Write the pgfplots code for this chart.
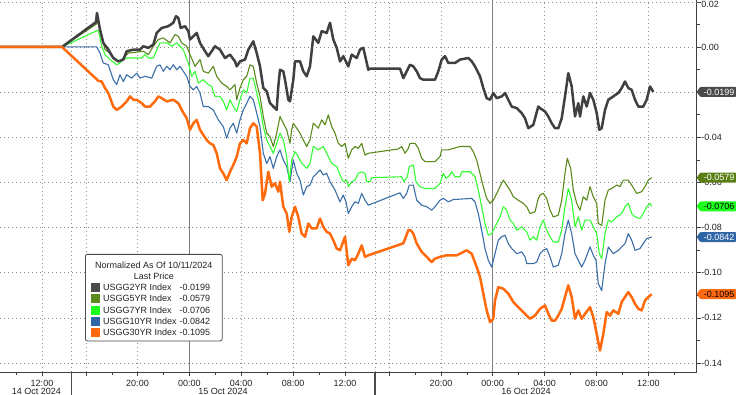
\documentclass[border=0pt]{standalone}
\usepackage{fontspec}
\setmainfont{Liberation Sans}
\usepackage{pgfplots}
\pgfplotsset{compat=1.18}
\definecolor{c2}{HTML}{404040}
\definecolor{c5}{HTML}{5A8A1C}
\definecolor{c7}{HTML}{33FF33}
\definecolor{c10}{HTML}{3A6EA8}
\definecolor{c30}{HTML}{FF6A0D}
\definecolor{t2}{HTML}{4A4A4A}
\definecolor{t5}{HTML}{5A7F15}
\definecolor{t7}{HTML}{1CFF1C}
\definecolor{t10}{HTML}{2F65A5}
\definecolor{t30}{HTML}{FF6A10}
\definecolor{txt}{HTML}{222222}
\newcommand\fs{\fontsize{9bp}{11.2bp}\selectfont}
\newcommand\sw[1]{\textcolor{#1}{\rule[-1.5bp]{9bp}{9bp}}}
\newcommand\tagat[4]{%
  \fill[#2, rounded corners=0.8bp] (#1) -- ++(3.5bp,5bp) -- ++(35.8bp,0) -- ++(0,-10bp) -- ++(-35.8bp,0) -- cycle;
  \node[font=\fs, text=#3, inner sep=0pt, anchor=base east] at ([xshift=37.8bp, yshift=-3.2bp]#1) {#4};}
\begin{document}
\begin{tikzpicture}
\begin{axis}[name=ax, at={(0,0)}, anchor=south west,
  width=696.7bp, height=372bp, scale only axis,
  xmin=0, xmax=696.7, ymin=-0.1440, ymax=0.0208,
  axis x line*=bottom, axis y line*=right,
  axis line style={draw=black!75, line width=0.8bp},
  xtick={42,71.7,86,137.5,189.3,241.2,293.1,345,375,389,441,492.7,544.6,596.5,648.4},
  xticklabels={12:00,,,20:00,00:00,04:00,08:00,12:00,,,20:00,00:00,04:00,08:00,12:00},
  minor xtick={16,112,163.4,215.2,267.1,319,415,466.8,518.6,570.5,622.4,674.3},
  ytick={-0.14,-0.12,-0.10,-0.08,-0.06,-0.04,-0.02,0},
  yticklabels={\textrm{-}0.14,\textrm{-}0.12,\textrm{-}0.10,\textrm{-}0.08,\textrm{-}0.06,\textrm{-}0.04,\textrm{-}0.02,0.00},
  extra y ticks={0.02}, extra y tick labels={0.02},
  extra y tick style={grid=major, yticklabel style={yshift=-3bp}},
  minor ytick={-0.13,-0.11,-0.09,-0.07,-0.05,-0.03,-0.01,0.01},
  tick align=outside, major tick length=4bp, minor tick length=3bp,
  tick style={draw=black!75, line width=0.6bp},
  grid=major,
  major grid style={draw=black!45, dash pattern=on 1bp off 3bp, line width=0.6bp},
  ticklabel style={font=\fs, text=txt},
  xticklabel style={anchor=base, inner sep=0pt, yshift=-10.7bp},
  yticklabel style={anchor=west, inner sep=0pt, xshift=0.5bp},
  extra x ticks={189.3,492.7}, extra x tick labels={},
  extra x tick style={grid=major, major grid style={solid, draw=black!50, line width=0.9bp}},
  clip=false,
]
% 10YR
\addplot[c10, line width=1.1bp, line join=round] coordinates {
(0,0) (62,0) (96.7,0) (100,-0.0027) (103.3,-0.0071) (108.3,-0.0079) (113.3,-0.0145) (116.7,-0.0167) (120,-0.0123) (123.3,-0.0153) (126.7,-0.0123) (131.7,-0.0138) (136.7,-0.0116) (140,-0.0138) (145,-0.0130) (151.7,-0.0138) (156.7,-0.0086) (160,-0.0079) (163.3,-0.0108) (166.7,-0.0086) (170,-0.0101) (173.3,-0.0079) (176.7,-0.0101) (180,-0.0086) (183.3,-0.0108) (186.7,-0.0130) (190,-0.0175) (193.3,-0.0190) (196.7,-0.0175) (200,-0.0204) (203.3,-0.0264) (208.3,-0.0264) (213.3,-0.0279) (218.3,-0.0323) (223.3,-0.0353) (226.7,-0.0404) (230,-0.0360) (233.3,-0.0338) (236.7,-0.0382) (240,-0.0323) (243.3,-0.0279) (246.7,-0.0249) (250,-0.0219) (253.3,-0.0234) (256.7,-0.0293) (260,-0.0353) (263.3,-0.0471) (266.7,-0.0516) (270,-0.0486) (273.3,-0.0538) (276.7,-0.0486) (280,-0.0456) (283.3,-0.0501) (286.7,-0.0530) (290,-0.0597) (293.3,-0.0501) (296.7,-0.0560) (300,-0.0590) (303.3,-0.0656) (306.7,-0.0619) (310,-0.0612) (313.3,-0.0575) (316.7,-0.0560) (320,-0.0545) (323.3,-0.0567) (326.7,-0.0560) (330,-0.0597) (335,-0.0634) (340,-0.0686) (343.3,-0.0656) (346,-0.0686) (348.3,-0.0738) (351.7,-0.0708) (355,-0.0686) (358.3,-0.0693) (361.7,-0.0649) (365,-0.0679) (368.3,-0.0701) (400,-0.0646) (403.3,-0.0671) (406.7,-0.0649) (409.3,-0.0612) (413.3,-0.0612) (416.7,-0.0679) (421.7,-0.0701) (426.7,-0.0708) (431.7,-0.0723) (435,-0.0708) (440,-0.0679) (443.3,-0.0671) (448.3,-0.0686) (453.3,-0.0676) (471.7,-0.0671) (475,-0.0686) (478.3,-0.0738) (481.7,-0.0812) (485,-0.0893) (488.3,-0.0945) (491.7,-0.0975) (495,-0.0916) (498.3,-0.0856) (501.7,-0.0841) (505,-0.0834) (508.3,-0.0871) (511.7,-0.0893) (516.7,-0.0916) (521.7,-0.0908) (525,-0.0930) (526.7,-0.0960) (533.3,-0.0960) (536.7,-0.0953) (540,-0.0916) (543.3,-0.0901) (546.7,-0.0893) (550,-0.0930) (553.3,-0.0975) (558.3,-0.0967) (561.7,-0.0916) (565,-0.0827) (568.3,-0.0767) (571.7,-0.0827) (575,-0.0916) (578.3,-0.0945) (581.7,-0.0975) (585,-0.0945) (590,-0.0886) (593.3,-0.0923) (596,-0.0945) (598.3,-0.1049) (601.7,-0.1079) (605,-0.0960) (608.3,-0.0886) (613.3,-0.0916) (618.3,-0.0901) (621.7,-0.0886) (625,-0.0871) (628.3,-0.0827) (631.7,-0.0856) (635,-0.0901) (640,-0.0893) (643.3,-0.0871) (646.7,-0.0849) (651.7,-0.0842)};
% 7YR
\addplot[c7, line width=1.1bp, line join=round] coordinates {
(0,0) (62,0) (98.3,0.0075) (101.7,0.0003) (105,-0.0034) (110,-0.0056) (116.7,-0.0079) (120,-0.0071) (123.3,-0.0056) (126.7,-0.0049) (141.7,-0.0049) (145,-0.0034) (148.3,-0.0049) (153.3,-0.0049) (156.7,-0.0012) (160,0.0018) (166.7,0.0018) (171.7,0.0003) (176.7,0.0018) (180,0.0003) (183.3,-0.0012) (188.3,-0.0071) (191.7,-0.0130) (195,-0.0108) (198.3,-0.0160) (203.3,-0.0145) (208.3,-0.0167) (211.7,-0.0175) (215,-0.0219) (220,-0.0219) (223.3,-0.0241) (226.7,-0.0279) (230,-0.0234) (233.3,-0.0264) (236.7,-0.0286) (240,-0.0234) (243.3,-0.0190) (246.7,-0.0204) (250,-0.0138) (253.3,-0.0138) (256.7,-0.0204) (260,-0.0264) (263.3,-0.0353) (266.7,-0.0412) (270,-0.0441) (273.3,-0.0471) (276.7,-0.0427) (280,-0.0382) (283.3,-0.0412) (286.7,-0.0486) (289.3,-0.0597) (291.7,-0.0501) (295,-0.0464) (298.3,-0.0486) (301.7,-0.0516) (306.7,-0.0538) (310,-0.0516) (313.3,-0.0441) (318.3,-0.0456) (323.3,-0.0441) (326.7,-0.0471) (331.7,-0.0516) (336.7,-0.0530) (340,-0.0567) (343.3,-0.0597) (346.7,-0.0590) (348.3,-0.0619) (351.7,-0.0597) (355,-0.0590) (358.3,-0.0560) (361.7,-0.0553) (365,-0.0560) (366.7,-0.0597) (370,-0.0597) (371.7,-0.0579) (401.7,-0.0575) (404,-0.0597) (407.3,-0.0575) (409.3,-0.0530) (413.3,-0.0523) (416,-0.0597) (420,-0.0619) (425,-0.0627) (435,-0.0627) (440,-0.0604) (441.7,-0.0582) (443.3,-0.0560) (446,-0.0582) (448.3,-0.0575) (451.7,-0.0553) (455,-0.0575) (460,-0.0575) (461.7,-0.0553) (470,-0.0553) (475,-0.0575) (478.3,-0.0634) (481.7,-0.0708) (485,-0.0782) (488.3,-0.0834) (491.7,-0.0827) (495,-0.0797) (500,-0.0753) (503.3,-0.0708) (506.7,-0.0723) (510,-0.0767) (513.3,-0.0782) (516.7,-0.0812) (521.7,-0.0797) (526.7,-0.0819) (530,-0.0856) (533.3,-0.0841) (536.7,-0.0856) (540,-0.0797) (543.3,-0.0767) (546.7,-0.0812) (550,-0.0841) (553.3,-0.0864) (558.3,-0.0864) (561.7,-0.0812) (565,-0.0708) (568.3,-0.0627) (571.7,-0.0679) (575,-0.0797) (578.3,-0.0753) (581.7,-0.0812) (585,-0.0767) (590,-0.0767) (593.3,-0.0797) (596.7,-0.0827) (599.3,-0.0916) (601.7,-0.0938) (605,-0.0827) (608.3,-0.0767) (611.7,-0.0775) (616.7,-0.0753) (621.7,-0.0738) (625,-0.0708) (628.3,-0.0693) (631.7,-0.0738) (635,-0.0753) (640,-0.0760) (643.3,-0.0738) (646.7,-0.0708) (650,-0.0693) (651.7,-0.0706)};
% 5YR
\addplot[c5, line width=1.1bp, line join=round] coordinates {
(0,0) (62,0) (98.3,0.0107) (101.7,0.0047) (105,-0.0012) (110,-0.0027) (115,-0.0056) (120,-0.0064) (123.3,-0.0049) (128.3,-0.0027) (135,-0.0024) (143.3,-0.0019) (148.3,-0.0034) (153.3,0.0003) (158.3,0.0033) (163.3,0.0040) (170,0.0018) (175,0.0055) (178.3,0.0047) (181.7,0.0018) (186.7,0.0003) (190,-0.0034) (195,-0.0086) (200,-0.0056) (203.3,-0.0108) (208.3,-0.0116) (213.3,-0.0086) (216.7,-0.0130) (221.7,-0.0160) (226.7,-0.0175) (230,-0.0190) (235,-0.0167) (236.7,-0.0234) (240,-0.0182) (243.3,-0.0145) (246.7,-0.0130) (250,-0.0079) (253.3,-0.0086) (256.7,-0.0160) (260,-0.0219) (263.3,-0.0308) (266.7,-0.0382) (270,-0.0397) (273.3,-0.0441) (276.7,-0.0382) (280,-0.0308) (283.3,-0.0338) (286.7,-0.0367) (290,-0.0427) (291.7,-0.0367) (293.3,-0.0338) (296.7,-0.0360) (300,-0.0382) (303.3,-0.0412) (306.7,-0.0441) (310,-0.0412) (313.3,-0.0338) (318.3,-0.0360) (321.7,-0.0323) (325,-0.0345) (328.3,-0.0301) (331.7,-0.0353) (335,-0.0382) (338.3,-0.0427) (341.7,-0.0441) (345,-0.0427) (348.3,-0.0493) (351.7,-0.0456) (355,-0.0441) (358.3,-0.0449) (361.7,-0.0427) (365,-0.0479) (368.3,-0.0471) (398.3,-0.0452) (401.7,-0.0441) (405,-0.0471) (408.3,-0.0449) (410,-0.0427) (415,-0.0427) (418.3,-0.0449) (421.7,-0.0493) (425,-0.0508) (435,-0.0508) (440,-0.0486) (441.7,-0.0456) (448.3,-0.0456) (460,-0.0441) (470,-0.0441) (473.3,-0.0464) (476.7,-0.0501) (480,-0.0560) (483.3,-0.0619) (486.7,-0.0671) (490,-0.0693) (493.3,-0.0679) (496.7,-0.0649) (500,-0.0619) (503.3,-0.0590) (506.7,-0.0612) (510,-0.0634) (513.3,-0.0664) (518.3,-0.0679) (523.3,-0.0693) (526.7,-0.0708) (530,-0.0738) (535,-0.0730) (538.3,-0.0671) (540,-0.0656) (543.3,-0.0649) (546.7,-0.0671) (550,-0.0723) (553.3,-0.0753) (558.3,-0.0745) (561.7,-0.0679) (565,-0.0560) (567.3,-0.0493) (570.7,-0.0538) (573.3,-0.0634) (576.7,-0.0693) (580,-0.0723) (583.3,-0.0664) (586.7,-0.0679) (590,-0.0619) (593.3,-0.0664) (596.7,-0.0693) (598.3,-0.0782) (601.7,-0.0790) (605,-0.0679) (608.3,-0.0634) (611.7,-0.0627) (616.7,-0.0612) (620,-0.0619) (623.3,-0.0590) (628.3,-0.0590) (631.7,-0.0612) (636.7,-0.0649) (641.7,-0.0641) (645,-0.0619) (648.3,-0.0590) (651.7,-0.0579)};
% 2YR
\addplot[c2, line width=2.5bp, line join=round] coordinates {
(0,0) (62,0) (96,0.0110) (97,0.0151) (100,0.0077) (103.3,0.0018) (108.3,-0.0012) (113.3,-0.0049) (118.3,-0.0064) (123.3,-0.0056) (126.7,-0.0019) (133.3,-0.0012) (140,-0.0012) (143.3,0.0003) (148.3,-0.0004) (153.3,0.0010) (156.7,0.0062) (161.7,0.0084) (168.3,0.0092) (173.3,0.0107) (176,0.0136) (178.3,0.0129) (180.7,0.0084) (185,0.0092) (188.3,0.0070) (190,0.0033) (193.3,0.0047) (196.7,0.0062) (200,0.0018) (205,-0.0019) (208.3,-0.0041) (211.7,-0.0019) (215,0.0003) (220,-0.0012) (225,-0.0049) (230,-0.0034) (235,-0.0064) (236.7,-0.0086) (240,-0.0064) (245,-0.0056) (248.3,-0.0012) (253.3,0.0025) (256.7,-0.0027) (260,-0.0086) (263.3,-0.0182) (266.7,-0.0197) (270,-0.0249) (273.3,-0.0264) (276.7,-0.0279) (278.3,-0.0175) (280,-0.0101) (283.3,-0.0108) (285,-0.0145) (288.3,-0.0234) (290,-0.0241) (293.3,-0.0145) (295,-0.0064) (300,-0.0064) (303.3,-0.0108) (306.7,-0.0130) (310,-0.0086) (313.3,0.0047) (318.3,0.0018) (321.7,0.0070) (326.7,0.0062) (330,0.0107) (333.3,0.0033) (336.7,-0.0004) (340,-0.0064) (343.3,-0.0041) (348.3,-0.0086) (351.7,-0.0034) (356.7,-0.0049) (360,-0.0012) (363.3,-0.0004) (366,-0.0056) (368.3,-0.0101) (370,-0.0096) (400,-0.0096) (403.3,-0.0138) (406.7,-0.0108) (410,-0.0079) (413.3,-0.0086) (416.7,-0.0108) (420,-0.0138) (423.3,-0.0145) (435,-0.0145) (438.3,-0.0108) (441.7,-0.0056) (445,-0.0041) (448.3,-0.0071) (455,-0.0071) (460,-0.0056) (468.3,-0.0049) (471.7,-0.0064) (475,-0.0086) (480,-0.0130) (483.3,-0.0182) (486.7,-0.0227) (490,-0.0234) (493.3,-0.0204) (496.7,-0.0227) (501.7,-0.0219) (505,-0.0204) (508.3,-0.0234) (511.7,-0.0264) (516.7,-0.0271) (521.7,-0.0293) (525,-0.0316) (528.3,-0.0360) (533.3,-0.0345) (538.3,-0.0264) (540,-0.0271) (545,-0.0286) (548.3,-0.0308) (551.7,-0.0338) (555,-0.0360) (558.3,-0.0360) (561.7,-0.0316) (565,-0.0219) (568.3,-0.0116) (571.7,-0.0175) (575,-0.0308) (578.3,-0.0249) (580,-0.0308) (583.3,-0.0219) (586.7,-0.0264) (590,-0.0204) (593.3,-0.0234) (596.7,-0.0293) (599.3,-0.0367) (601.7,-0.0360) (605,-0.0279) (608.3,-0.0234) (613.3,-0.0219) (618.3,-0.0204) (621.7,-0.0182) (625,-0.0153) (628.3,-0.0182) (631.7,-0.0190) (635,-0.0234) (638.3,-0.0264) (643.3,-0.0264) (646.7,-0.0234) (650,-0.0175) (653.3,-0.0199)};
% 30YR
\addplot[c30, line width=2.5bp, line join=round] coordinates {
(0,0) (62,0) (98.3,-0.0150) (101.7,-0.0153) (105,-0.0182) (108.3,-0.0204) (113.3,-0.0264) (116.7,-0.0279) (121.7,-0.0264) (126.7,-0.0241) (130,-0.0219) (133.3,-0.0234) (136.7,-0.0234) (141.7,-0.0249) (145,-0.0264) (150,-0.0264) (155,-0.0241) (158.3,-0.0219) (161.7,-0.0227) (166.7,-0.0241) (173.3,-0.0234) (178.3,-0.0249) (181.7,-0.0279) (186.7,-0.0316) (190,-0.0367) (193.3,-0.0338) (196.7,-0.0323) (200,-0.0367) (203.3,-0.0390) (206.7,-0.0412) (210,-0.0427) (213.3,-0.0434) (216.7,-0.0471) (220,-0.0538) (223.3,-0.0560) (226.7,-0.0590) (230,-0.0553) (233.3,-0.0523) (236.7,-0.0486) (240,-0.0427) (243.3,-0.0412) (246.7,-0.0427) (250,-0.0360) (253.3,-0.0338) (256.7,-0.0353) (260,-0.0471) (262.7,-0.0679) (265,-0.0649) (268.3,-0.0553) (271.7,-0.0619) (275,-0.0604) (278.3,-0.0641) (280,-0.0597) (283.3,-0.0708) (286.7,-0.0738) (289.3,-0.0819) (291.7,-0.0753) (295,-0.0708) (298.3,-0.0753) (301.7,-0.0827) (305,-0.0841) (308.3,-0.0782) (311.7,-0.0804) (316.7,-0.0804) (320,-0.0760) (323.3,-0.0797) (326.7,-0.0819) (330,-0.0827) (333.3,-0.0856) (336.7,-0.0893) (340,-0.0901) (345,-0.0841) (348.3,-0.0967) (351.7,-0.0938) (355,-0.0945) (358.3,-0.0916) (361.7,-0.0879) (365,-0.0930) (368.3,-0.0923) (403.3,-0.0870) (406,-0.0840) (408.3,-0.0812) (410.7,-0.0812) (413.3,-0.0827) (416.7,-0.0871) (421.7,-0.0908) (426.7,-0.0930) (431.7,-0.0953) (435,-0.0938) (440,-0.0930) (446.7,-0.0923) (456.7,-0.0923) (466.7,-0.0901) (471.7,-0.0916) (476.7,-0.0975) (480,-0.1019) (483.3,-0.1093) (486.7,-0.1167) (490,-0.1219) (493.3,-0.1204) (495,-0.1123) (498.3,-0.1064) (503.3,-0.1071) (508.3,-0.1093) (513.3,-0.1130) (518.3,-0.1153) (523.3,-0.1175) (526.7,-0.1190) (530,-0.1204) (535,-0.1190) (540,-0.1160) (545,-0.1145) (548.3,-0.1182) (551.7,-0.1212) (555,-0.1212) (558.3,-0.1190) (561.7,-0.1160) (565,-0.1108) (568.3,-0.1056) (571.7,-0.1108) (575,-0.1204) (578.3,-0.1167) (581.7,-0.1204) (585,-0.1182) (590,-0.1153) (593.3,-0.1197) (596.7,-0.1271) (600,-0.1345) (603.3,-0.1271) (606.7,-0.1175) (610,-0.1190) (613.3,-0.1167) (618.3,-0.1182) (621.7,-0.1130) (625,-0.1108) (628.3,-0.1086) (631.7,-0.1108) (635,-0.1138) (638.3,-0.1160) (641.7,-0.1167) (645,-0.1123) (648.3,-0.1108) (651.7,-0.1095)};
\coordinate (g2) at (axis cs:696.7,-0.0199);
\coordinate (g5) at (axis cs:696.7,-0.0579);
\coordinate (g7) at (axis cs:696.7,-0.0706);
\coordinate (g10) at (axis cs:696.7,-0.0842);
\coordinate (g30) at (axis cs:696.7,-0.1095);
\end{axis}
% day separators below the axis
\draw[black!70, line width=1.2bp] ([xshift=71.7bp]ax.south west) -- ++(0,-23bp);
\draw[black!70, line width=1.2bp] ([xshift=375bp]ax.south west) -- ++(0,-23bp);
\node[font=\fs, text=txt, anchor=base, inner sep=0pt] at ([xshift=36.3bp, yshift=-22bp]ax.south west) {14 Oct 2024};
\node[font=\fs, text=txt, anchor=base, inner sep=0pt] at ([xshift=223bp, yshift=-22bp]ax.south west) {15 Oct 2024};
\node[font=\fs, text=txt, anchor=base, inner sep=0pt] at ([xshift=526bp, yshift=-22bp]ax.south west) {16 Oct 2024};
% value tags
\tagat{g2}{t2}{white}{-0.0199}
\tagat{g5}{t5}{white}{-0.0579}
\tagat{g7}{t7}{black}{-0.0706}
\tagat{g10}{t10}{white}{-0.0842}
\tagat{g30}{t30}{black}{-0.1095}
% legend
\node[draw=black!70, line width=0.8bp, rounded corners=2bp, fill=white, anchor=north west, inner xsep=0pt, inner ysep=2bp, font=\fs, text=txt]
  at ([xshift=85bp, yshift=-254bp]ax.north west) {%
  \begin{tabular}{@{\hspace{6bp}}l@{\hspace{2.7bp}}l@{\hspace{3bp}}l@{\hspace{12bp}}}
  \multicolumn{3}{c}{\rule{0pt}{12bp}Normalized As Of 10/11/2024}\\
  \multicolumn{3}{c}{Last Price}\\
  \sw{t2} & USGG2YR Index & -0.0199\\
  \sw{c5} & USGG5YR Index & -0.0579\\
  \sw{t7} & USGG7YR Index & -0.0706\\
  \sw{t10} & USGG10YR Index & -0.0842\\
  \sw{t30} & USGG30YR Index & -0.1095
  \end{tabular}};
\pgfresetboundingbox
\path[use as bounding box] ([yshift=-23bp]ax.south west) rectangle ([xshift=39.3bp]ax.north east);
\end{tikzpicture}
\end{document}
